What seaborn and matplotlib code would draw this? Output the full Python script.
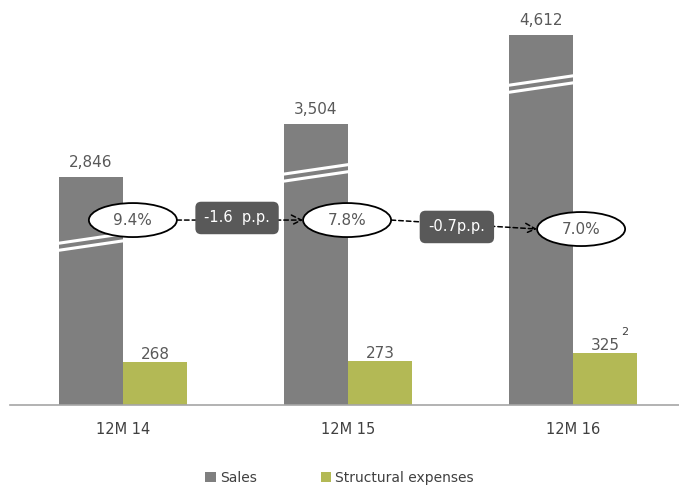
import matplotlib
matplotlib.use("Agg")
import matplotlib.pyplot as plt
from matplotlib.patches import Ellipse, Patch
import seaborn as sns
import pandas as pd

# ---- data ----
periods = ["12M 14", "12M 15", "12M 16"]
sales = [2846, 3504, 4612]
structural = [268, 273, 325]
ratio_labels = ["9.4%", "7.8%", "7.0%"]
change_labels = ["-1.6  p.p.", "-0.7p.p."]
series_names = ["Sales", "Structural expenses"]

# broken-axis compression applied to the sales bars
SALES_SCALE = 0.5

GRAY = "#7f7f7f"
OLIVE = "#b3b955"
TEXT = "#595959"
DARKBOX = "#595959"

sns.set_style("white")
plt.rcParams["font.family"] = ["DejaVu Sans"]

df = pd.DataFrame({
    "period": periods * 2,
    "series": [series_names[0]] * 3 + [series_names[1]] * 3,
    "plotted": [v * SALES_SCALE for v in sales] + structural,
    "value": sales + structural,
})

fig = plt.figure(figsize=(6.79, 4.88), dpi=100)
ax = fig.add_axes([10 / 679, 83 / 488, 669 / 679, 405 / 488])

sns.barplot(data=df, x="period", y="plotted", hue="series",
            palette=[GRAY, OLIVE], width=0.57, gap=0, saturation=1,
            linewidth=0, ax=ax, legend=False, errorbar=None)

ax.set_xlim(-0.502, 2.471)
ax.set_ylim(0, 2525)
ax.set_xlabel("")
ax.set_ylabel("")
ax.set_yticks([])
for s in ["left", "right", "top"]:
    ax.spines[s].set_visible(False)
ax.spines["bottom"].set_color("#a6a6a6")
ax.spines["bottom"].set_linewidth(1.2)
ax.tick_params(axis="x", length=0, pad=12, labelsize=10.5, labelcolor="#404040")

bw = 0.285
# value labels
for i in range(3):
    xs = i - bw / 2
    ax.annotate(f"{sales[i]:,}", (xs, sales[i] * SALES_SCALE), xytext=(0, 7),
                textcoords="offset points", ha="center", va="baseline",
                fontsize=11, color=TEXT)
    xe = i + bw / 2
    ax.annotate(f"{structural[i]}", (xe, structural[i]), xytext=(0, 2),
                textcoords="offset points", ha="center", va="baseline",
                fontsize=11, color=TEXT)
# footnote marker on last structural label
ax.annotate("2", (2 + bw / 2, structural[2]), xytext=(14, 13),
            textcoords="offset points", ha="center", va="baseline",
            fontsize=8, color="#404040")

# axis-break marks on sales bars
break_y = [1016, 1447, 2001]
for i in range(3):
    xl = i - bw - 0.008
    xr = i + 0.008
    for off in (-22, 22):
        ax.plot([xl, xr], [break_y[i] - 31 + off, break_y[i] + 31 + off],
                color="white", lw=2.2, solid_capstyle="butt", zorder=5)

# ratio ellipses
ell_x = [0.044, 0.996, 2.036]
ell_y = [1153, 1153, 1097]
ell_w, ell_h = 0.391, 212
for i in range(3):
    ax.add_patch(Ellipse((ell_x[i], ell_y[i]), ell_w, ell_h, facecolor="white",
                         edgecolor="black", lw=1.3, zorder=7))
    ax.text(ell_x[i], ell_y[i], ratio_labels[i], ha="center", va="center",
            fontsize=11, color=TEXT, zorder=8)

# dashed arrows between ellipses
for i in range(2):
    ax.annotate("", xy=(ell_x[i + 1] - ell_w / 2, ell_y[i + 1]),
                xytext=(ell_x[i] + ell_w / 2, ell_y[i]),
                arrowprops=dict(arrowstyle="->", color="black", lw=1.1,
                                linestyle=(0, (3, 2)), shrinkA=0, shrinkB=0,
                                mutation_scale=18),
                zorder=6)

# change boxes
box_x = [0.507, 1.484]
box_y = [1166, 1110]
for i in range(2):
    ax.text(box_x[i], box_y[i], change_labels[i], ha="center", va="center",
            fontsize=10.5, color="white", zorder=9,
            bbox=dict(boxstyle="round,pad=0.6,rounding_size=0.4",
                      facecolor=DARKBOX, edgecolor="none"))

# legend
handles = [Patch(facecolor=GRAY, edgecolor="none"),
           Patch(facecolor=OLIVE, edgecolor="none")]
fig.legend(handles, series_names, loc="center", bbox_to_anchor=(0.5, 0.021),
           ncol=2, frameon=False, fontsize=10, handlelength=0.75,
           handleheight=0.75, handletextpad=0.3, columnspacing=4.6,
           labelcolor="#404040", borderpad=0)

fig.savefig("out.png", dpi=100)
